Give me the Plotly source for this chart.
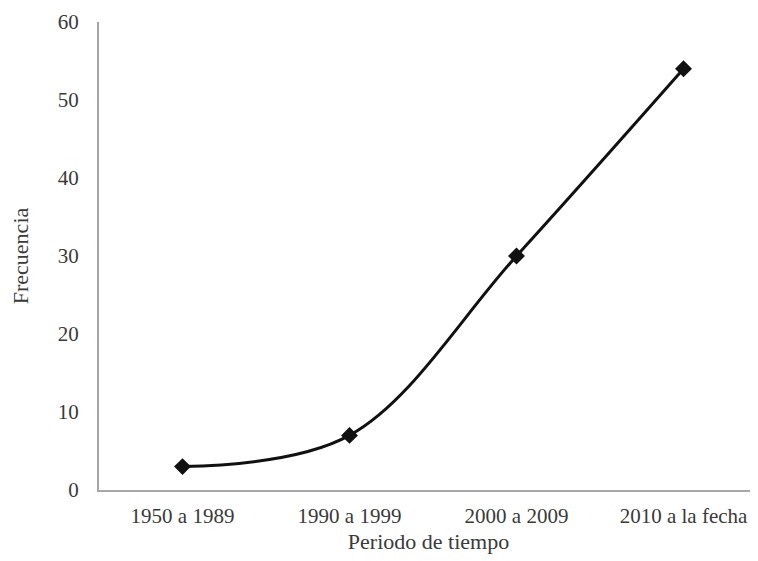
import plotly.graph_objects as go

categories = ["1950 a 1989", "1990 a 1999", "2000 a 2009", "2010 a la fecha"]
frecuencia = [3, 7, 30, 54]
y_ticks = [0, 10, 20, 30, 40, 50, 60]

fig = go.Figure()
fig.add_trace(go.Scatter(
    x=categories, y=frecuencia, mode="lines+markers",
    line=dict(color="#111111", width=3, shape="spline", smoothing=1),
    marker=dict(symbol="diamond", size=13, color="#111111"),
    showlegend=False,
))

font_family = "Liberation Serif"
text_color = "#3a3a3a"
fig.update_layout(
    width=758, height=561,
    margin=dict(l=91, r=8, t=14, b=79),
    paper_bgcolor="white", plot_bgcolor="white",
    font=dict(family=font_family, size=21, color=text_color),
    xaxis=dict(
        type="category", range=[-0.5, 3.446], automargin=False,
        showline=True, linecolor="#a6a6a6", linewidth=2,
        showgrid=False, zeroline=False, ticks="",
        ticklabelstandoff=6,
        tickfont=dict(size=21, family=font_family, color=text_color),
        title=dict(text="Periodo de tiempo", font=dict(size=22, family=font_family, color=text_color), standoff=6),
    ),
    yaxis=dict(
        range=[0, 60], tickvals=y_ticks, automargin=False,
        showline=True, linecolor="#a6a6a6", linewidth=2,
        showgrid=False, zeroline=False, ticks="",
        ticklabelstandoff=14,
        tickfont=dict(size=21, family=font_family, color=text_color),
        title=dict(text="Frecuencia", font=dict(size=22, family=font_family, color=text_color), standoff=25),
    ),
)

fig.write_html("out.html")
